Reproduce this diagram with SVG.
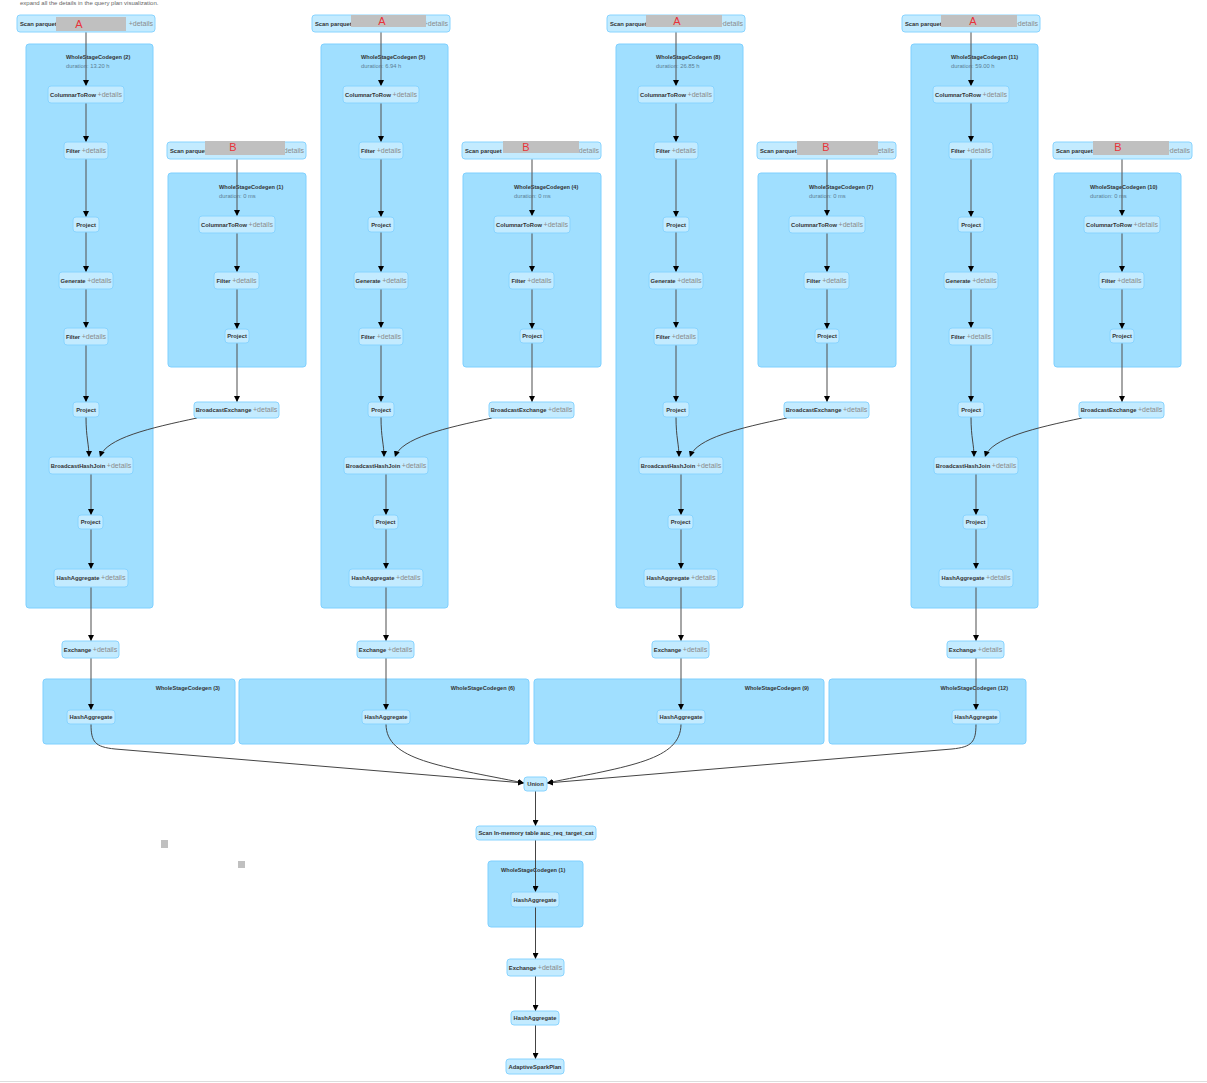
<svg xmlns="http://www.w3.org/2000/svg" width="1207" height="1083" viewBox="0 0 1207 1083">
<style>
.cl{fill:#A0DFFF;stroke:#7FD0FF;stroke-width:1}
.nd{fill:#C3EBFF;stroke:#88D4FF;stroke-width:1}
.lb{font-family:"Liberation Sans",Arial,sans-serif;font-weight:bold;font-size:5.8px;fill:#333}
.dt{font-family:"Liberation Sans",Arial,sans-serif;font-weight:normal;font-size:7px;fill:#8a8a8a}
.ct{font-family:"Liberation Sans",Arial,sans-serif;font-weight:bold;font-size:5.6px;fill:#333}
.du{font-family:"Liberation Sans",Arial,sans-serif;font-size:5.8px;fill:#5b7d93}
.ov{fill:#C0C0C0}
.rl{font-family:"Liberation Sans",Arial,sans-serif;font-size:11px;fill:#E8333A;text-anchor:middle}
.e{fill:none;stroke:#444;stroke-width:1}
.ev{fill:none;stroke:#555;stroke-opacity:.7;stroke-width:1.5}
.top{font-family:"Liberation Sans",Arial,sans-serif;font-size:6px;fill:#666}
</style>
<defs>
<marker id="arr" markerUnits="userSpaceOnUse" markerWidth="6" markerHeight="6" refX="6" refY="3" orient="auto">
<path d="M0,0 L6,3 L0,6 z" fill="#000"/>
</marker>
</defs>
<rect width="1207" height="1083" fill="#fff"/>
<text class="top" x="20" y="5">expand all the details in the query plan visualization.</text>
<line x1="0" y1="1081.5" x2="1207" y2="1081.5" stroke="#ddd" stroke-width="1"/>
<rect class="ov" x="161" y="840" width="7" height="8"/>
<rect class="ov" x="238" y="861" width="7" height="7"/>

<g id="clusters">
<g id="wscg2"><rect class="cl" x="26" y="44" width="127" height="564" rx="3"/><text class="ct" x="66" y="59">WholeStageCodegen (2)</text><text class="du" x="66" y="68">duration: 13.20 h</text></g>
<g id="wscg1"><rect class="cl" x="168" y="173" width="138" height="194" rx="3"/><text class="ct" x="219" y="189">WholeStageCodegen (1)</text><text class="du" x="219" y="198">duration: 0 ms</text></g>
<g id="wscg5"><rect class="cl" x="321" y="44" width="127" height="564" rx="3"/><text class="ct" x="361" y="59">WholeStageCodegen (5)</text><text class="du" x="361" y="68">duration: 6.94 h</text></g>
<g id="wscg4"><rect class="cl" x="463" y="173" width="138" height="194" rx="3"/><text class="ct" x="514" y="189">WholeStageCodegen (4)</text><text class="du" x="514" y="198">duration: 0 ms</text></g>
<g id="wscg8"><rect class="cl" x="616" y="44" width="127" height="564" rx="3"/><text class="ct" x="656" y="59">WholeStageCodegen (8)</text><text class="du" x="656" y="68">duration: 26.85 h</text></g>
<g id="wscg7"><rect class="cl" x="758" y="173" width="138" height="194" rx="3"/><text class="ct" x="809" y="189">WholeStageCodegen (7)</text><text class="du" x="809" y="198">duration: 0 ms</text></g>
<g id="wscg11"><rect class="cl" x="911" y="44" width="127" height="564" rx="3"/><text class="ct" x="951" y="59">WholeStageCodegen (11)</text><text class="du" x="951" y="68">duration: 59.00 h</text></g>
<g id="wscg10"><rect class="cl" x="1054" y="173" width="127" height="194" rx="3"/><text class="ct" x="1090" y="189">WholeStageCodegen (10)</text><text class="du" x="1090" y="198">duration: 0 ms</text></g>
<g id="wscg3"><rect class="cl" x="43" y="679" width="192" height="65" rx="3"/><text class="ct" x="220" y="690" text-anchor="end">WholeStageCodegen (3)</text></g>
<g id="wscg6"><rect class="cl" x="239" y="679" width="290" height="65" rx="3"/><text class="ct" x="515" y="690" text-anchor="end">WholeStageCodegen (6)</text></g>
<g id="wscg9"><rect class="cl" x="534" y="679" width="290" height="65" rx="3"/><text class="ct" x="809" y="690" text-anchor="end">WholeStageCodegen (9)</text></g>
<g id="wscg12"><rect class="cl" x="829" y="679" width="197" height="65" rx="3"/><text class="ct" x="1008" y="690" text-anchor="end">WholeStageCodegen (12)</text></g>
<g id="wscg-final"><rect class="cl" x="488" y="861" width="95" height="66" rx="3"/><text class="ct" x="501" y="872">WholeStageCodegen (1)</text></g>
</g>

<g id="connectors">
<g id="edges-c1">
<path class="ev" d="M86,32 V86" marker-end="url(#arr)"/>
<path class="ev" d="M86,103 V142" marker-end="url(#arr)"/>
<path class="ev" d="M86,159 V217" marker-end="url(#arr)"/>
<path class="ev" d="M86,232 V272" marker-end="url(#arr)"/>
<path class="ev" d="M86,289 V328" marker-end="url(#arr)"/>
<path class="ev" d="M86,345 V402" marker-end="url(#arr)"/>
<path class="e" d="M86,417 C86,438 89,444 89,457" marker-end="url(#arr)"/>
<path class="e" d="M197,418 C150,428 106,438 100,457" marker-end="url(#arr)"/>
<path class="ev" d="M91,474 V515" marker-end="url(#arr)"/>
<path class="ev" d="M91,529 V569" marker-end="url(#arr)"/>
<path class="ev" d="M91,587 V641" marker-end="url(#arr)"/>
<path class="ev" d="M91,658 V710" marker-end="url(#arr)"/>
<path class="ev" d="M237,159 V216" marker-end="url(#arr)"/>
<path class="ev" d="M237,233 V272" marker-end="url(#arr)"/>
<path class="ev" d="M237,289 V329" marker-end="url(#arr)"/>
<path class="ev" d="M237,343 V402" marker-end="url(#arr)"/>
</g>
<g id="edges-c2" transform="translate(295,0)">
<path class="ev" d="M86,32 V86" marker-end="url(#arr)"/>
<path class="ev" d="M86,103 V142" marker-end="url(#arr)"/>
<path class="ev" d="M86,159 V217" marker-end="url(#arr)"/>
<path class="ev" d="M86,232 V272" marker-end="url(#arr)"/>
<path class="ev" d="M86,289 V328" marker-end="url(#arr)"/>
<path class="ev" d="M86,345 V402" marker-end="url(#arr)"/>
<path class="e" d="M86,417 C86,438 89,444 89,457" marker-end="url(#arr)"/>
<path class="e" d="M197,418 C150,428 106,438 100,457" marker-end="url(#arr)"/>
<path class="ev" d="M91,474 V515" marker-end="url(#arr)"/>
<path class="ev" d="M91,529 V569" marker-end="url(#arr)"/>
<path class="ev" d="M91,587 V641" marker-end="url(#arr)"/>
<path class="ev" d="M91,658 V710" marker-end="url(#arr)"/>
<path class="ev" d="M237,159 V216" marker-end="url(#arr)"/>
<path class="ev" d="M237,233 V272" marker-end="url(#arr)"/>
<path class="ev" d="M237,289 V329" marker-end="url(#arr)"/>
<path class="ev" d="M237,343 V402" marker-end="url(#arr)"/>
</g>
<g id="edges-c3" transform="translate(590,0)">
<path class="ev" d="M86,32 V86" marker-end="url(#arr)"/>
<path class="ev" d="M86,103 V142" marker-end="url(#arr)"/>
<path class="ev" d="M86,159 V217" marker-end="url(#arr)"/>
<path class="ev" d="M86,232 V272" marker-end="url(#arr)"/>
<path class="ev" d="M86,289 V328" marker-end="url(#arr)"/>
<path class="ev" d="M86,345 V402" marker-end="url(#arr)"/>
<path class="e" d="M86,417 C86,438 89,444 89,457" marker-end="url(#arr)"/>
<path class="e" d="M197,418 C150,428 106,438 100,457" marker-end="url(#arr)"/>
<path class="ev" d="M91,474 V515" marker-end="url(#arr)"/>
<path class="ev" d="M91,529 V569" marker-end="url(#arr)"/>
<path class="ev" d="M91,587 V641" marker-end="url(#arr)"/>
<path class="ev" d="M91,658 V710" marker-end="url(#arr)"/>
<path class="ev" d="M237,159 V216" marker-end="url(#arr)"/>
<path class="ev" d="M237,233 V272" marker-end="url(#arr)"/>
<path class="ev" d="M237,289 V329" marker-end="url(#arr)"/>
<path class="ev" d="M237,343 V402" marker-end="url(#arr)"/>
</g>
<g id="edges-c4" transform="translate(885,0)">
<path class="ev" d="M86,32 V86" marker-end="url(#arr)"/>
<path class="ev" d="M86,103 V142" marker-end="url(#arr)"/>
<path class="ev" d="M86,159 V217" marker-end="url(#arr)"/>
<path class="ev" d="M86,232 V272" marker-end="url(#arr)"/>
<path class="ev" d="M86,289 V328" marker-end="url(#arr)"/>
<path class="ev" d="M86,345 V402" marker-end="url(#arr)"/>
<path class="e" d="M86,417 C86,438 89,444 89,457" marker-end="url(#arr)"/>
<path class="e" d="M197,418 C150,428 106,438 100,457" marker-end="url(#arr)"/>
<path class="ev" d="M91,474 V515" marker-end="url(#arr)"/>
<path class="ev" d="M91,529 V569" marker-end="url(#arr)"/>
<path class="ev" d="M91,587 V641" marker-end="url(#arr)"/>
<path class="ev" d="M91,658 V710" marker-end="url(#arr)"/>
<path class="ev" d="M237,159 V216" marker-end="url(#arr)"/>
<path class="ev" d="M237,233 V272" marker-end="url(#arr)"/>
<path class="ev" d="M237,289 V329" marker-end="url(#arr)"/>
<path class="ev" d="M237,343 V402" marker-end="url(#arr)"/>
</g>
<g id="edges-final">
<path class="e" d="M91,724 C91,742 95,747 115,749 L524,783" marker-end="url(#arr)"/>
<path class="e" d="M386,724 C386,760 440,766 524,783" marker-end="url(#arr)"/>
<path class="e" d="M681,724 C681,760 630,766 547,783" marker-end="url(#arr)"/>
<path class="e" d="M976,724 C976,742 972,747 952,749 L547,783" marker-end="url(#arr)"/>
<path class="e" d="M535.5,791 V826" marker-end="url(#arr)"/>
<path class="e" d="M535.5,840 V892" marker-end="url(#arr)"/>
<path class="e" d="M535.5,907 V959" marker-end="url(#arr)"/>
<path class="e" d="M535.5,976 V1011" marker-end="url(#arr)"/>
<path class="e" d="M535.5,1025 V1059" marker-end="url(#arr)"/>
</g>
</g>

<g id="nodes">
<g id="col1">
<g id="scanA1"><rect class="nd" x="17" y="15" width="138" height="17" rx="3"/><text class="lb" x="20" y="25.5">Scan parquet</text><text class="dt" x="153" y="25.5" text-anchor="end">+details</text><rect class="ov" x="56" y="17" width="70" height="14"/><text class="rl" x="79" y="28">A</text></g>
<g id="ctr1"><rect class="nd" x="48" y="86" width="76" height="17" rx="3"/><text class="lb" x="86" y="96.5" text-anchor="middle">ColumnarToRow <tspan class="dt">+details</tspan></text></g>
<g id="filter1a"><rect class="nd" x="64" y="142" width="44" height="17" rx="3"/><text class="lb" x="86" y="152.5" text-anchor="middle">Filter <tspan class="dt">+details</tspan></text></g>
<g id="project1a"><rect class="nd" x="73" y="217" width="26" height="15" rx="3"/><text class="lb" x="86" y="226.5" text-anchor="middle">Project</text></g>
<g id="generate1"><rect class="nd" x="59" y="272" width="54" height="17" rx="3"/><text class="lb" x="86" y="282.5" text-anchor="middle">Generate <tspan class="dt">+details</tspan></text></g>
<g id="filter1b"><rect class="nd" x="64" y="328" width="44" height="17" rx="3"/><text class="lb" x="86" y="338.5" text-anchor="middle">Filter <tspan class="dt">+details</tspan></text></g>
<g id="project1b"><rect class="nd" x="73" y="402" width="26" height="15" rx="3"/><text class="lb" x="86" y="411.5" text-anchor="middle">Project</text></g>
<g id="bhj1"><rect class="nd" x="49" y="457" width="84" height="17" rx="3"/><text class="lb" x="91" y="467.5" text-anchor="middle">BroadcastHashJoin <tspan class="dt">+details</tspan></text></g>
<g id="project1c"><rect class="nd" x="78" y="515" width="25" height="14" rx="3"/><text class="lb" x="90.5" y="524" text-anchor="middle">Project</text></g>
<g id="ha1a"><rect class="nd" x="54" y="569" width="74" height="18" rx="3"/><text class="lb" x="91" y="580" text-anchor="middle">HashAggregate <tspan class="dt">+details</tspan></text></g>
<g id="exchange1"><rect class="nd" x="62" y="641" width="57" height="17" rx="3"/><text class="lb" x="90.5" y="651.5" text-anchor="middle">Exchange <tspan class="dt">+details</tspan></text></g>
<g id="ha1b"><rect class="nd" x="67" y="710" width="48" height="14" rx="3"/><text class="lb" x="91" y="719" text-anchor="middle">HashAggregate</text></g>
<g id="scanB1"><rect class="nd" x="167" y="142" width="139" height="17" rx="3"/><text class="lb" x="170" y="152.5">Scan parquet</text><text class="dt" x="304" y="152.5" text-anchor="end">+details</text><rect class="ov" x="205" y="141" width="80" height="14"/><text class="rl" x="233" y="151">B</text></g>
<g id="ctrB1"><rect class="nd" x="199" y="216" width="76" height="17" rx="3"/><text class="lb" x="237" y="226.5" text-anchor="middle">ColumnarToRow <tspan class="dt">+details</tspan></text></g>
<g id="filterB1"><rect class="nd" x="214" y="272" width="45" height="17" rx="3"/><text class="lb" x="236.5" y="282.5" text-anchor="middle">Filter <tspan class="dt">+details</tspan></text></g>
<g id="projectB1"><rect class="nd" x="225" y="329" width="24" height="14" rx="3"/><text class="lb" x="237" y="338" text-anchor="middle">Project</text></g>
<g id="be1"><rect class="nd" x="194" y="402" width="85" height="16" rx="3"/><text class="lb" x="236.5" y="412" text-anchor="middle">BroadcastExchange <tspan class="dt">+details</tspan></text></g>
</g>
<g id="col2" transform="translate(295,0)">
<g id="scanA2"><rect class="nd" x="17" y="15" width="138" height="17" rx="3"/><text class="lb" x="20" y="25.5">Scan parquet</text><text class="dt" x="153" y="25.5" text-anchor="end">+details</text><rect class="ov" x="56" y="15" width="75" height="12"/><text class="rl" x="87" y="25">A</text></g>
<g id="ctr2"><rect class="nd" x="48" y="86" width="76" height="17" rx="3"/><text class="lb" x="86" y="96.5" text-anchor="middle">ColumnarToRow <tspan class="dt">+details</tspan></text></g>
<g id="filter2a"><rect class="nd" x="64" y="142" width="44" height="17" rx="3"/><text class="lb" x="86" y="152.5" text-anchor="middle">Filter <tspan class="dt">+details</tspan></text></g>
<g id="project2a"><rect class="nd" x="73" y="217" width="26" height="15" rx="3"/><text class="lb" x="86" y="226.5" text-anchor="middle">Project</text></g>
<g id="generate2"><rect class="nd" x="59" y="272" width="54" height="17" rx="3"/><text class="lb" x="86" y="282.5" text-anchor="middle">Generate <tspan class="dt">+details</tspan></text></g>
<g id="filter2b"><rect class="nd" x="64" y="328" width="44" height="17" rx="3"/><text class="lb" x="86" y="338.5" text-anchor="middle">Filter <tspan class="dt">+details</tspan></text></g>
<g id="project2b"><rect class="nd" x="73" y="402" width="26" height="15" rx="3"/><text class="lb" x="86" y="411.5" text-anchor="middle">Project</text></g>
<g id="bhj2"><rect class="nd" x="49" y="457" width="84" height="17" rx="3"/><text class="lb" x="91" y="467.5" text-anchor="middle">BroadcastHashJoin <tspan class="dt">+details</tspan></text></g>
<g id="project2c"><rect class="nd" x="78" y="515" width="25" height="14" rx="3"/><text class="lb" x="90.5" y="524" text-anchor="middle">Project</text></g>
<g id="ha2a"><rect class="nd" x="54" y="569" width="74" height="18" rx="3"/><text class="lb" x="91" y="580" text-anchor="middle">HashAggregate <tspan class="dt">+details</tspan></text></g>
<g id="exchange2"><rect class="nd" x="62" y="641" width="57" height="17" rx="3"/><text class="lb" x="90.5" y="651.5" text-anchor="middle">Exchange <tspan class="dt">+details</tspan></text></g>
<g id="ha2b"><rect class="nd" x="67" y="710" width="48" height="14" rx="3"/><text class="lb" x="91" y="719" text-anchor="middle">HashAggregate</text></g>
<g id="scanB2"><rect class="nd" x="167" y="142" width="139" height="17" rx="3"/><text class="lb" x="170" y="152.5">Scan parquet</text><text class="dt" x="304" y="152.5" text-anchor="end">+details</text><rect class="ov" x="208" y="141" width="76" height="12"/><text class="rl" x="231" y="151">B</text></g>
<g id="ctrB2"><rect class="nd" x="199" y="216" width="76" height="17" rx="3"/><text class="lb" x="237" y="226.5" text-anchor="middle">ColumnarToRow <tspan class="dt">+details</tspan></text></g>
<g id="filterB2"><rect class="nd" x="214" y="272" width="45" height="17" rx="3"/><text class="lb" x="236.5" y="282.5" text-anchor="middle">Filter <tspan class="dt">+details</tspan></text></g>
<g id="projectB2"><rect class="nd" x="225" y="329" width="24" height="14" rx="3"/><text class="lb" x="237" y="338" text-anchor="middle">Project</text></g>
<g id="be2"><rect class="nd" x="194" y="402" width="85" height="16" rx="3"/><text class="lb" x="236.5" y="412" text-anchor="middle">BroadcastExchange <tspan class="dt">+details</tspan></text></g>
</g>
<g id="col3" transform="translate(590,0)">
<g id="scanA3"><rect class="nd" x="17" y="15" width="138" height="17" rx="3"/><text class="lb" x="20" y="25.5">Scan parquet</text><text class="dt" x="153" y="25.5" text-anchor="end">+details</text><rect class="ov" x="56" y="15" width="76" height="12"/><text class="rl" x="87" y="25">A</text></g>
<g id="ctr3"><rect class="nd" x="48" y="86" width="76" height="17" rx="3"/><text class="lb" x="86" y="96.5" text-anchor="middle">ColumnarToRow <tspan class="dt">+details</tspan></text></g>
<g id="filter3a"><rect class="nd" x="64" y="142" width="44" height="17" rx="3"/><text class="lb" x="86" y="152.5" text-anchor="middle">Filter <tspan class="dt">+details</tspan></text></g>
<g id="project3a"><rect class="nd" x="73" y="217" width="26" height="15" rx="3"/><text class="lb" x="86" y="226.5" text-anchor="middle">Project</text></g>
<g id="generate3"><rect class="nd" x="59" y="272" width="54" height="17" rx="3"/><text class="lb" x="86" y="282.5" text-anchor="middle">Generate <tspan class="dt">+details</tspan></text></g>
<g id="filter3b"><rect class="nd" x="64" y="328" width="44" height="17" rx="3"/><text class="lb" x="86" y="338.5" text-anchor="middle">Filter <tspan class="dt">+details</tspan></text></g>
<g id="project3b"><rect class="nd" x="73" y="402" width="26" height="15" rx="3"/><text class="lb" x="86" y="411.5" text-anchor="middle">Project</text></g>
<g id="bhj3"><rect class="nd" x="49" y="457" width="84" height="17" rx="3"/><text class="lb" x="91" y="467.5" text-anchor="middle">BroadcastHashJoin <tspan class="dt">+details</tspan></text></g>
<g id="project3c"><rect class="nd" x="78" y="515" width="25" height="14" rx="3"/><text class="lb" x="90.5" y="524" text-anchor="middle">Project</text></g>
<g id="ha3a"><rect class="nd" x="54" y="569" width="74" height="18" rx="3"/><text class="lb" x="91" y="580" text-anchor="middle">HashAggregate <tspan class="dt">+details</tspan></text></g>
<g id="exchange3"><rect class="nd" x="62" y="641" width="57" height="17" rx="3"/><text class="lb" x="90.5" y="651.5" text-anchor="middle">Exchange <tspan class="dt">+details</tspan></text></g>
<g id="ha3b"><rect class="nd" x="67" y="710" width="48" height="14" rx="3"/><text class="lb" x="91" y="719" text-anchor="middle">HashAggregate</text></g>
<g id="scanB3"><rect class="nd" x="167" y="142" width="139" height="17" rx="3"/><text class="lb" x="170" y="152.5">Scan parquet</text><text class="dt" x="304" y="152.5" text-anchor="end">+details</text><rect class="ov" x="207" y="141" width="81" height="14"/><text class="rl" x="236" y="151">B</text></g>
<g id="ctrB3"><rect class="nd" x="199" y="216" width="76" height="17" rx="3"/><text class="lb" x="237" y="226.5" text-anchor="middle">ColumnarToRow <tspan class="dt">+details</tspan></text></g>
<g id="filterB3"><rect class="nd" x="214" y="272" width="45" height="17" rx="3"/><text class="lb" x="236.5" y="282.5" text-anchor="middle">Filter <tspan class="dt">+details</tspan></text></g>
<g id="projectB3"><rect class="nd" x="225" y="329" width="24" height="14" rx="3"/><text class="lb" x="237" y="338" text-anchor="middle">Project</text></g>
<g id="be3"><rect class="nd" x="194" y="402" width="85" height="16" rx="3"/><text class="lb" x="236.5" y="412" text-anchor="middle">BroadcastExchange <tspan class="dt">+details</tspan></text></g>
</g>
<g id="col4" transform="translate(885,0)">
<g id="scanA4"><rect class="nd" x="17" y="15" width="138" height="17" rx="3"/><text class="lb" x="20" y="25.5">Scan parquet</text><text class="dt" x="153" y="25.5" text-anchor="end">+details</text><rect class="ov" x="56" y="15" width="76" height="12"/><text class="rl" x="88" y="25">A</text></g>
<g id="ctr4"><rect class="nd" x="48" y="86" width="76" height="17" rx="3"/><text class="lb" x="86" y="96.5" text-anchor="middle">ColumnarToRow <tspan class="dt">+details</tspan></text></g>
<g id="filter4a"><rect class="nd" x="64" y="142" width="44" height="17" rx="3"/><text class="lb" x="86" y="152.5" text-anchor="middle">Filter <tspan class="dt">+details</tspan></text></g>
<g id="project4a"><rect class="nd" x="73" y="217" width="26" height="15" rx="3"/><text class="lb" x="86" y="226.5" text-anchor="middle">Project</text></g>
<g id="generate4"><rect class="nd" x="59" y="272" width="54" height="17" rx="3"/><text class="lb" x="86" y="282.5" text-anchor="middle">Generate <tspan class="dt">+details</tspan></text></g>
<g id="filter4b"><rect class="nd" x="64" y="328" width="44" height="17" rx="3"/><text class="lb" x="86" y="338.5" text-anchor="middle">Filter <tspan class="dt">+details</tspan></text></g>
<g id="project4b"><rect class="nd" x="73" y="402" width="26" height="15" rx="3"/><text class="lb" x="86" y="411.5" text-anchor="middle">Project</text></g>
<g id="bhj4"><rect class="nd" x="49" y="457" width="84" height="17" rx="3"/><text class="lb" x="91" y="467.5" text-anchor="middle">BroadcastHashJoin <tspan class="dt">+details</tspan></text></g>
<g id="project4c"><rect class="nd" x="78" y="515" width="25" height="14" rx="3"/><text class="lb" x="90.5" y="524" text-anchor="middle">Project</text></g>
<g id="ha4a"><rect class="nd" x="54" y="569" width="74" height="18" rx="3"/><text class="lb" x="91" y="580" text-anchor="middle">HashAggregate <tspan class="dt">+details</tspan></text></g>
<g id="exchange4"><rect class="nd" x="62" y="641" width="57" height="17" rx="3"/><text class="lb" x="90.5" y="651.5" text-anchor="middle">Exchange <tspan class="dt">+details</tspan></text></g>
<g id="ha4b"><rect class="nd" x="67" y="710" width="48" height="14" rx="3"/><text class="lb" x="91" y="719" text-anchor="middle">HashAggregate</text></g>
<g id="scanB4"><rect class="nd" x="168" y="142" width="139" height="17" rx="3"/><text class="lb" x="171" y="152.5">Scan parquet</text><text class="dt" x="305" y="152.5" text-anchor="end">+details</text><rect class="ov" x="208" y="141" width="76" height="14"/><text class="rl" x="233" y="151">B</text></g>
<g id="ctrB4"><rect class="nd" x="199" y="216" width="76" height="17" rx="3"/><text class="lb" x="237" y="226.5" text-anchor="middle">ColumnarToRow <tspan class="dt">+details</tspan></text></g>
<g id="filterB4"><rect class="nd" x="214" y="272" width="45" height="17" rx="3"/><text class="lb" x="236.5" y="282.5" text-anchor="middle">Filter <tspan class="dt">+details</tspan></text></g>
<g id="projectB4"><rect class="nd" x="225" y="329" width="24" height="14" rx="3"/><text class="lb" x="237" y="338" text-anchor="middle">Project</text></g>
<g id="be4"><rect class="nd" x="194" y="402" width="85" height="16" rx="3"/><text class="lb" x="236.5" y="412" text-anchor="middle">BroadcastExchange <tspan class="dt">+details</tspan></text></g>
</g>
<g id="final">
<g id="union"><rect class="nd" x="524" y="777" width="23" height="14" rx="3"/><text class="lb" x="535.5" y="786" text-anchor="middle">Union</text></g>
<g id="scan-inmem"><rect class="nd" x="476" y="826" width="120" height="14" rx="3"/><text class="lb" x="536" y="835" text-anchor="middle">Scan In-memory table auc_req_target_cat</text></g>
<g id="ha-f1"><rect class="nd" x="511" y="892" width="48" height="15" rx="3"/><text class="lb" x="535" y="901.5" text-anchor="middle">HashAggregate</text></g>
<g id="exchange-f"><rect class="nd" x="507" y="959" width="57" height="17" rx="3"/><text class="lb" x="535.5" y="969.5" text-anchor="middle">Exchange <tspan class="dt">+details</tspan></text></g>
<g id="ha-f2"><rect class="nd" x="511" y="1011" width="48" height="14" rx="3"/><text class="lb" x="535" y="1020" text-anchor="middle">HashAggregate</text></g>
<g id="asp"><rect class="nd" x="506" y="1059" width="58" height="15" rx="3"/><text class="lb" x="535" y="1068.5" text-anchor="middle">AdaptiveSparkPlan</text></g>
</g>
</g>
</svg>
